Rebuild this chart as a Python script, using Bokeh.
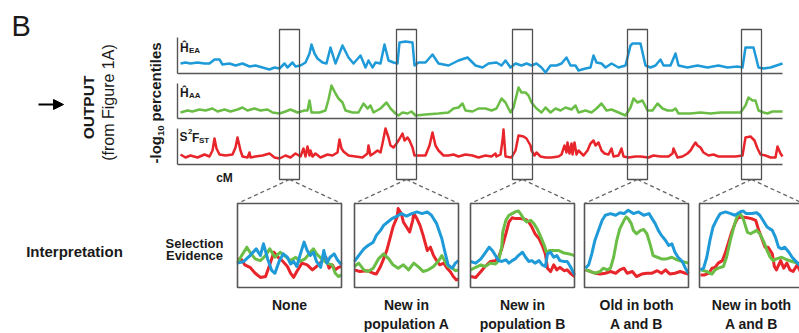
import math
from bokeh.plotting import figure
from bokeh.models import Range1d, Arrow, NormalHead
from bokeh.core.properties import value
from bokeh.embed import file_html
from bokeh.resources import INLINE

# ---------------- data: genome-wide tracks (position in cM, -log10 percentile) ----------------
ea_cm = [3, 8, 13, 20, 27, 32, 37, 42, 45, 52, 58, 65, 72, 78, 85, 92, 97, 102, 107, 110, 115, 118, 123, 128,
         132, 134, 137, 140, 145, 149, 153, 158, 165, 171, 176, 183, 188, 191, 195, 198, 203, 207, 211, 216,
         220, 222, 228, 235, 237, 241, 248, 255, 261, 271, 281, 290, 298, 305, 311, 319, 324, 328, 333, 338,
         344, 349, 354, 359, 364, 368, 373, 379, 384, 389, 393, 398, 401, 408, 413, 416, 419, 424, 428, 434,
         441, 448, 453, 455, 463, 468, 473, 478, 483, 486, 493, 498, 501, 510, 520, 530, 541, 550, 560, 565,
         568, 576, 581, 586, 593, 605]
ea_val = [1.0, 1.1, 1.0, 1.1, 1.0, 1.0, 1.4, 1.4, 0.9, 1.0, 0.8, 1.0, 0.7, 0.8, 0.6, 0.4, 0.6, 0.5, 1.0, 0.6,
          1.1, 0.7, 0.8, 1.1, 2.0, 2.9, 2.0, 1.5, 1.1, 1.0, 2.6, 1.0, 2.8, 1.6, 1.0, 1.8, 0.6, 1.3, 0.6, 1.1,
          1.0, 2.9, 1.3, 1.1, 1.0, 3.1, 3.2, 3.1, 0.8, 1.1, 1.1, 1.9, 1.0, 0.8, 1.3, 1.6, 0.8, 0.6, 1.0, 1.1,
          0.8, 1.3, 0.6, 1.0, 0.8, 1.0, 0.8, 1.0, 0.6, 0.1, 0.8, 0.8, 1.0, 1.6, 0.8, 0.8, 0.3, 0.5, 0.6, 1.8,
          1.1, 1.0, 0.6, 1.0, 0.6, 0.8, 2.8, 3.0, 3.0, 0.8, 0.6, 0.8, 1.4, 0.8, 0.8, 2.0, 0.8, 0.6, 0.8, 0.6,
          0.8, 0.6, 0.7, 0.6, 2.6, 2.6, 0.6, 0.5, 0.6, 1.0]

aa_cm = [3, 10, 15, 22, 28, 35, 40, 47, 53, 60, 65, 70, 77, 83, 90, 95, 102, 108, 113, 120, 127, 130, 132, 134,
         142, 148, 151, 154, 158, 161, 165, 168, 175, 181, 186, 190, 193, 196, 203, 209, 213, 218, 221, 225,
         230, 234, 238, 248, 261, 271, 276, 281, 285, 288, 295, 301, 308, 314, 319, 324, 328, 333, 336, 341,
         344, 348, 351, 354, 359, 364, 368, 373, 378, 383, 388, 394, 398, 401, 408, 414, 419, 424, 429, 434,
         441, 448, 453, 456, 460, 465, 470, 475, 480, 485, 490, 495, 498, 501, 513, 523, 533, 543, 553, 563,
         568, 571, 575, 578, 581, 586, 590, 595, 605]
aa_val = [0.6, 0.8, 0.7, 0.9, 0.8, 1.0, 0.7, 0.9, 0.7, 0.9, 1.1, 0.8, 1.0, 0.8, 0.9, 0.6, 0.5, 0.7, 0.9, 0.6,
          0.8, 0.8, 1.8, 0.6, 0.6, 0.8, 1.9, 3.3, 2.5, 2.0, 1.6, 0.8, 0.6, 0.6, 1.5, 1.0, 1.3, 0.6, 1.0, 1.6,
          1.0, 0.5, 0.3, 0.6, 0.5, 0.7, 0.3, 0.4, 0.5, 0.6, 1.0, 1.1, 1.5, 0.8, 0.7, 1.0, 1.0, 0.8, 1.0, 2.0,
          1.6, 0.6, 1.1, 3.1, 2.6, 2.6, 2.3, 1.6, 1.0, 0.6, 1.1, 0.6, 1.0, 0.8, 1.1, 0.9, 1.3, 0.6, 0.8, 0.6,
          1.0, 1.5, 0.8, 0.9, 0.6, 0.3, 1.1, 2.0, 1.6, 1.8, 0.8, 0.8, 1.5, 1.0, 0.8, 0.8, 1.0, 0.5, 0.5, 0.6,
          0.5, 0.6, 0.6, 0.6, 1.3, 2.1, 1.8, 1.8, 0.8, 0.6, 0.5, 0.7, 0.7]

fst_cm = [3, 8, 13, 20, 27, 32, 35, 37, 39, 42, 48, 55, 58, 60, 63, 65, 70, 72, 73, 78, 85, 92, 97, 102, 108,
          113, 118, 123, 126, 128, 130, 132, 133, 135, 138, 143, 150, 155, 160, 162, 164, 166, 171, 178, 185,
          190, 191, 193, 196, 200, 203, 205, 208, 211, 213, 216, 219, 221, 225, 227, 230, 232, 235, 237, 243,
          248, 252, 255, 258, 261, 266, 271, 276, 281, 288, 295, 301, 308, 314, 318, 319, 323, 325, 326, 328,
          334, 338, 341, 346, 349, 353, 354, 357, 359, 363, 368, 374, 381, 384, 387, 389, 390, 392, 394, 395,
          397, 399, 401, 406, 410, 413, 416, 418, 421, 424, 427, 431, 434, 436, 441, 444, 446, 451, 458, 463,
          471, 476, 483, 491, 495, 496, 500, 505, 510, 513, 516, 518, 520, 523, 526, 531, 536, 541, 550, 558,
          565, 568, 573, 577, 580, 583, 588, 593, 598, 600, 603, 605]
fst_val = [1.0, 0.7, 0.9, 0.7, 1.0, 0.8, 1.4, 2.6, 1.6, 1.0, 0.9, 1.0, 1.7, 2.7, 1.4, 0.8, 0.7, 1.2, 0.7, 0.8,
           0.9, 1.1, 0.7, 0.6, 0.9, 0.7, 1.1, 0.8, 1.6, 0.8, 1.8, 0.9, 1.4, 0.8, 1.1, 0.7, 1.0, 0.9, 1.2, 2.5,
           1.6, 1.3, 0.9, 0.8, 0.7, 1.1, 1.9, 0.9, 1.1, 1.4, 1.2, 2.1, 3.6, 2.7, 1.9, 1.7, 2.1, 2.4, 3.1, 2.4,
           2.7, 2.4, 1.7, 0.9, 0.9, 0.9, 1.9, 3.2, 1.9, 1.4, 0.9, 0.9, 1.0, 0.8, 1.0, 0.9, 0.7, 0.9, 0.8, 1.1,
           0.8, 1.0, 2.4, 3.5, 0.8, 0.7, 1.4, 2.9, 2.8, 2.6, 1.9, 1.4, 0.9, 1.2, 0.8, 0.7, 0.7, 0.8, 1.0, 1.9,
           1.2, 2.2, 1.1, 2.1, 1.0, 2.2, 1.0, 1.4, 0.9, 1.4, 2.1, 2.4, 1.9, 2.2, 1.4, 1.1, 1.0, 1.6, 0.8, 0.9,
           1.6, 0.8, 0.7, 0.8, 0.8, 0.7, 0.9, 0.8, 0.8, 1.1, 1.6, 0.7, 0.8, 1.1, 1.4, 1.9, 2.2, 1.9, 1.7, 1.2,
           0.9, 1.0, 0.8, 0.8, 0.8, 0.9, 2.7, 2.8, 2.4, 1.6, 1.0, 0.9, 0.7, 0.7, 1.8, 1.1, 0.8]

track_labels_main = ["\u0124", "\u0124", "S"]

# ---------------- data: zoomed panels (position %, selection evidence %) ----------------
panel_titles_1 = ["None", "New in", "New in", "Old in both", "New in both"]
panel_titles_2 = ["", "population A", "population B", "A and B", "A and B"]

none_blue_x = [0, 6, 12, 18, 22, 25, 29, 33, 36, 40, 44, 48, 51, 54, 57, 60, 64, 67, 70, 73, 76, 80, 83, 86, 89, 93, 96, 100]
none_blue_y = [29, 31, 38, 46, 38, 52, 34, 20, 17, 31, 40, 36, 28, 31, 25, 38, 54, 44, 38, 42, 31, 24, 44, 29, 36, 40, 33, 27]
none_red_x = [0, 4, 7, 12, 17, 22, 27, 31, 35, 39, 43, 48, 51, 54, 57, 62, 67, 72, 76, 81, 85, 88, 91, 94, 97, 100]
none_red_y = [34, 33, 27, 24, 17, 12, 13, 27, 42, 36, 32, 25, 17, 12, 19, 29, 27, 21, 25, 31, 36, 23, 27, 21, 24, 25]
none_green_x = [0, 4, 9, 12, 17, 22, 27, 31, 36, 41, 46, 51, 56, 60, 65, 70, 73, 76, 81, 86, 91, 94, 97, 100]
none_green_y = [29, 38, 48, 42, 34, 32, 38, 46, 36, 42, 37, 32, 36, 31, 34, 42, 46, 40, 34, 29, 27, 17, 13, 15]

newA_blue_x = [0, 4, 9, 13, 18, 21, 25, 28, 32, 36, 41, 45, 50, 55, 60, 65, 70, 74, 79, 84, 87, 90, 94, 97, 100]
newA_blue_y = [31, 38, 46, 50, 54, 62, 68, 74, 78, 82, 85, 88, 85, 88, 90, 88, 90, 86, 76, 58, 42, 27, 23, 29, 32]
newA_red_x = [0, 5, 12, 18, 21, 25, 28, 31, 34, 37, 41, 42, 45, 47, 50, 53, 56, 57, 60, 63, 66, 70, 73, 76, 79, 82, 86, 89, 92, 95, 98, 100]
newA_red_y = [21, 19, 20, 17, 16, 25, 34, 44, 58, 72, 84, 94, 88, 78, 72, 66, 80, 88, 82, 74, 62, 44, 48, 38, 32, 27, 29, 23, 19, 13, 9, 10]
newA_green_x = [0, 4, 9, 13, 18, 23, 28, 33, 37, 42, 47, 52, 57, 62, 66, 71, 76, 81, 84, 87, 90, 94, 97, 100]
newA_green_y = [25, 29, 21, 19, 23, 34, 40, 34, 27, 23, 27, 21, 29, 24, 19, 21, 25, 32, 38, 31, 25, 23, 20, 21]

newB_blue_x = [0, 5, 10, 14, 18, 21, 24, 27, 30, 34, 37, 40, 43, 46, 50, 53, 56, 59, 62, 66, 69, 72, 74, 77, 80, 83, 86, 90, 93, 96, 100]
newB_blue_y = [31, 29, 34, 41, 48, 44, 38, 32, 31, 33, 29, 32, 34, 38, 42, 36, 31, 32, 29, 32, 27, 25, 40, 42, 36, 38, 32, 31, 31, 25, 15]
newB_red_x = [0, 5, 10, 14, 19, 24, 27, 30, 34, 37, 40, 43, 48, 53, 56, 59, 62, 66, 69, 72, 74, 77, 80, 83, 86, 90, 93, 96, 100]
newB_red_y = [13, 12, 19, 25, 31, 32, 36, 46, 64, 78, 83, 82, 82, 81, 78, 72, 64, 58, 50, 40, 23, 19, 27, 21, 24, 20, 21, 17, 13]
newB_green_x = [0, 5, 10, 14, 19, 24, 27, 30, 31, 34, 37, 40, 43, 46, 48, 51, 54, 58, 61, 64, 67, 71, 73, 76, 80, 85, 90, 95, 100]
newB_green_y = [21, 24, 27, 25, 29, 28, 32, 48, 66, 80, 86, 88, 90, 91, 88, 82, 78, 80, 76, 70, 62, 50, 42, 44, 44, 44, 41, 40, 38]

old_blue_x = [1, 4, 7, 10, 14, 17, 20, 25, 30, 34, 38, 42, 47, 52, 57, 62, 65, 68, 71, 74, 78, 81, 84, 87, 90, 94, 97, 100]
old_blue_y = [23, 27, 40, 56, 70, 80, 86, 88, 86, 89, 88, 92, 88, 90, 86, 88, 82, 76, 68, 62, 56, 50, 52, 42, 36, 31, 23, 17]
old_red_x = [1, 6, 10, 15, 20, 25, 30, 34, 38, 41, 46, 50, 55, 60, 65, 70, 74, 78, 82, 87, 92, 97, 100]
old_red_y = [21, 19, 17, 16, 17, 19, 17, 21, 23, 17, 19, 13, 16, 17, 17, 20, 17, 21, 16, 17, 19, 17, 16]
old_green_x = [1, 6, 10, 15, 18, 22, 25, 28, 31, 34, 38, 40, 42, 45, 47, 50, 54, 57, 60, 63, 66, 70, 74, 79, 84, 89, 94, 100]
old_green_y = [21, 19, 17, 19, 23, 21, 23, 36, 56, 70, 80, 84, 82, 76, 68, 64, 68, 69, 64, 52, 38, 36, 34, 34, 36, 33, 31, 29]

both_blue_x = [1, 4, 7, 10, 13, 17, 20, 25, 30, 34, 39, 42, 45, 50, 55, 58, 61, 65, 70, 73, 76, 79, 82, 86, 89, 92, 96, 100]
both_blue_y = [21, 23, 36, 56, 72, 82, 88, 90, 88, 86, 90, 91, 88, 88, 89, 86, 80, 72, 68, 60, 48, 46, 48, 42, 36, 32, 27, 23]
both_red_x = [1, 5, 9, 12, 15, 18, 22, 25, 28, 31, 34, 37, 41, 46, 50, 54, 57, 60, 63, 66, 70, 72, 74, 78, 81, 84, 87, 90, 94, 97, 100]
both_red_y = [15, 15, 17, 23, 24, 29, 32, 42, 54, 66, 76, 83, 84, 83, 82, 80, 68, 58, 48, 48, 40, 25, 21, 32, 23, 29, 21, 19, 27, 19, 21]
both_green_x = [1, 7, 12, 15, 18, 23, 26, 30, 33, 36, 39, 42, 44, 46, 49, 52, 55, 58, 62, 65, 68, 71, 74, 79, 84, 89, 94, 97, 100]
both_green_y = [21, 19, 16, 21, 23, 25, 36, 58, 72, 84, 88, 82, 74, 66, 64, 66, 68, 64, 54, 44, 36, 32, 34, 36, 33, 31, 29, 29, 29]

# ---------------- layout / style ----------------
W, H = 799, 333
X0, Y0 = 0, 0
BLUE, GREEN, RED = "#1E9AD8", "#6ABD45", "#E7252B"
FRAME = "#555555"
INK = "#1a1a1a"
FONT = value("Liberation Sans")

TRACK_LEFT, TRACK_RIGHT = 177, 782
TRACK_BASE = [73, 118, 164]
TRACK_TOP = [37, 83, 128]
PX_PER_UNIT = 10.0
HILITE_CM = [112, 229, 345, 460, 574]     # centres of highlighted windows (cM)
HILITE_HALF = 10
HILITE_TOP, HILITE_BOT = 29, 179
PANEL_LEFT = [237, 354, 470, 584, 699]
PANEL_W = 104
PANEL_TOP, PANEL_BOT = 203, 287

p = figure(width=W, height=H, output_backend="svg", toolbar_location=None,
           x_range=Range1d(X0, X0 + W), y_range=Range1d(Y0 + H, Y0),
           x_axis_location=None, y_axis_location=None, min_border=0,
           background_fill_color="white", border_fill_color="white")
p.min_border_left = p.min_border_right = p.min_border_top = p.min_border_bottom = 0
p.outline_line_color = None
p.grid.visible = False

# ranges for the genome tracks
p.extra_x_ranges["cm"] = Range1d(X0 - TRACK_LEFT, X0 + W - TRACK_LEFT)
for i, base in enumerate(TRACK_BASE):
    p.extra_y_ranges[f"t{i}"] = Range1d((base - (Y0 + H)) / PX_PER_UNIT, (base - Y0) / PX_PER_UNIT)

# track frames
for top, base in zip(TRACK_TOP, TRACK_BASE):
    p.segment(x0=[TRACK_LEFT, TRACK_LEFT], y0=[top, base], x1=[TRACK_LEFT, TRACK_RIGHT], y1=[base, base],
              line_color=FRAME, line_width=1.4)

for i, (xs, ys, c) in enumerate([(ea_cm, ea_val, BLUE), (aa_cm, aa_val, GREEN), (fst_cm, fst_val, RED)]):
    p.line(xs, ys, x_range_name="cm", y_range_name=f"t{i}", line_color=c, line_width=2.5, line_join="round")

# highlight windows
cx_px = [TRACK_LEFT + c for c in HILITE_CM]
p.quad(left=[c - HILITE_HALF for c in cx_px], right=[c + HILITE_HALF for c in cx_px],
       top=[HILITE_TOP] * 5, bottom=[HILITE_BOT] * 5, fill_alpha=0, line_color="#505050", line_width=1.3)

# dashed connectors
sx0, sy0, sx1, sy1 = [], [], [], []
for c, L in zip(cx_px, PANEL_LEFT):
    for end in (L, L + PANEL_W):
        sx0.append(c); sy0.append(HILITE_BOT); sx1.append(end); sy1.append(PANEL_TOP)
p.segment(x0=sx0, y0=sy0, x1=sx1, y1=sy1, line_color="#666666", line_width=1.3, line_dash="4 3")

# panels
p.extra_y_ranges["panel"] = Range1d((PANEL_BOT - (Y0 + H)) / (PANEL_BOT - PANEL_TOP) * 100,
                                    (PANEL_BOT - Y0) / (PANEL_BOT - PANEL_TOP) * 100)
panel_series = [
    (none_blue_x, none_blue_y, none_red_x, none_red_y, none_green_x, none_green_y),
    (newA_blue_x, newA_blue_y, newA_red_x, newA_red_y, newA_green_x, newA_green_y),
    (newB_blue_x, newB_blue_y, newB_red_x, newB_red_y, newB_green_x, newB_green_y),
    (old_blue_x, old_blue_y, old_red_x, old_red_y, old_green_x, old_green_y),
    (both_blue_x, both_blue_y, both_red_x, both_red_y, both_green_x, both_green_y),
]
for k, (L, ser) in enumerate(zip(PANEL_LEFT, panel_series)):
    name = f"px{k}"
    p.extra_x_ranges[name] = Range1d((X0 - L) / PANEL_W * 100, (X0 + W - L) / PANEL_W * 100)
    bx, by, rx, ry, gx, gy = ser
    p.line(rx, ry, x_range_name=name, y_range_name="panel", line_color=RED, line_width=3, line_join="round")
    p.line(gx, gy, x_range_name=name, y_range_name="panel", line_color=GREEN, line_width=3, line_join="round")
    p.line(bx, by, x_range_name=name, y_range_name="panel", line_color=BLUE, line_width=3, line_join="round")

p.quad(left=PANEL_LEFT, right=[L + PANEL_W for L in PANEL_LEFT], top=[PANEL_TOP] * 5, bottom=[PANEL_BOT] * 5,
       fill_alpha=0, line_color=FRAME, line_width=1.6)

# ---------------- texts ----------------
def txt(x, y, s, size, bold=False, align="left", baseline="middle", angle=0.0, color=INK):
    p.text(x=[x], y=[y], text=[s], text_font=FONT, text_font_size=f"{size}px",
           text_font_style="bold" if bold else "normal", text_align=align, text_baseline=baseline,
           angle=angle, text_color=color)

txt(11, 25, "B", 29)
p.add_layout(Arrow(x_start=38, y_start=104, x_end=63, y_end=104, line_width=2, line_color="black",
                   end=NormalHead(size=10, fill_color="black", line_color="black")))
txt(88, 107, "OUTPUT", 15.5, bold=True, align="center", angle=math.pi / 2)
txt(108, 102, "(from Figure 1A)", 16, align="center", angle=math.pi / 2)
txt(155, 163, "-log", 15, bold=True, angle=math.pi / 2)
txt(160, 135.5, "10", 9.5, bold=True, angle=math.pi / 2)
txt(155, 121, "percentiles", 15, bold=True, angle=math.pi / 2)

# track labels
txt(179.5, 47, track_labels_main[0], 12, bold=True)
txt(188.5, 49.5, "EA", 8, bold=True)
txt(179.5, 92.5, track_labels_main[1], 12, bold=True)
txt(188.5, 95, "AA", 8, bold=True)
txt(179, 136, track_labels_main[2], 12, bold=True)
txt(187.5, 130.5, "2", 8, bold=True)
txt(191.5, 137, "F", 12, bold=True)
txt(198.5, 139.5, "ST", 8, bold=True)
txt(224, 177, "cM", 12, bold=True, align="center")

txt(74, 251, "Interpretation", 15, bold=True, align="center")
txt(194, 243, "Selection", 13, bold=True, align="center")
txt(194, 255, "Evidence", 13, bold=True, align="center")

for L, t1, t2 in zip(PANEL_LEFT, panel_titles_1, panel_titles_2):
    c = L + PANEL_W / 2
    txt(c, 304, t1, 14, bold=True, align="center")
    if t2:
        txt(c, 323, t2, 14, bold=True, align="center")

open("out.html", "w").write(file_html(p, INLINE))
